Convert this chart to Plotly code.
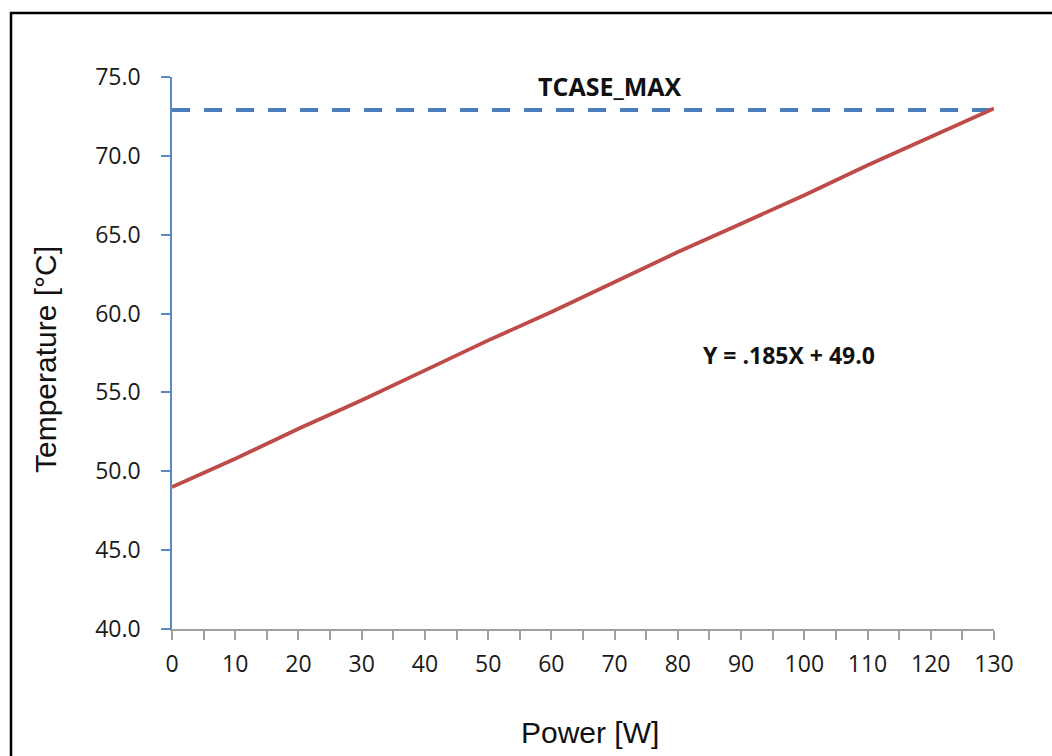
import plotly.graph_objects as go

power = [0, 10, 20, 30, 40, 50, 60, 70, 80, 90, 100, 110, 120, 130]
temperature = [49.0, 50.8, 52.7, 54.5, 56.4, 58.3, 60.1, 62.0, 63.9, 65.7, 67.5, 69.4, 71.2, 73.0]
tcase_x = [0, 131]
tcase_y = [72.9, 72.9]
x_ticks = list(range(0, 131, 10))
y_ticks = [40, 45, 50, 55, 60, 65, 70, 75]
y_tick_text = ["%.1f" % v for v in y_ticks]

fig = go.Figure()
fig.add_trace(go.Scatter(x=tcase_x, y=tcase_y, mode="lines",
                         line=dict(color="#4a7ebb", width=4, dash="18px,14px"),
                         hoverinfo="skip", cliponaxis=False))
fig.add_trace(go.Scatter(x=power, y=temperature, mode="lines",
                         line=dict(color="#be4b48", width=3.8), cliponaxis=False))

fig.update_layout(
    width=1052, height=756,
    margin=dict(l=172, r=58, t=77, b=127),
    paper_bgcolor="white", plot_bgcolor="white",
    showlegend=False,
    font=dict(family="Open Sans, Liberation Sans, sans-serif", color="#1a1a1a"),
    xaxis=dict(range=[0, 130], tickvals=x_ticks, showgrid=False, zeroline=False,
               showline=True, linecolor="#a0a0a0", linewidth=2,
               ticks="outside", ticklen=9, tickwidth=2, tickcolor="#a0a0a0",
               minor=dict(dtick=5, tick0=0, ticks="outside", ticklen=9, tickwidth=2, tickcolor="#a0a0a0"),
               tickfont=dict(size=23, color="#1a1a1a"), ticklabelstandoff=4),
    yaxis=dict(range=[40, 75], tickvals=y_ticks, ticktext=y_tick_text, showgrid=False, zeroline=False,
               showline=True, linecolor="#5a8ac6", linewidth=1.5,
               ticks="outside", ticklen=9, tickwidth=1.5, tickcolor="#5a8ac6",
               tickfont=dict(size=23, color="#1a1a1a"), ticklabelstandoff=16),
)

fig.add_annotation(x=69.3, y=74.4, text="<b>TCASE_MAX</b>", showarrow=False,
                   font=dict(size=25, color="#111111"), xanchor="center", yanchor="middle")
fig.add_annotation(x=97.5, y=57.4, text="<b>Y = .185X + 49.0</b>", showarrow=False,
                   font=dict(size=23, color="#111111"), xanchor="center", yanchor="middle")
fig.add_annotation(xref="paper", yref="paper", x=(46 - 172) / 822, y=(629 - 360) / 552,
                   text="Temperature [°C]", textangle=-90, showarrow=False,
                   font=dict(size=30, family="Liberation Sans, Arial, sans-serif", color="#111111"),
                   xanchor="center", yanchor="middle")
fig.add_annotation(xref="paper", yref="paper", x=(590 - 172) / 822, y=(629 - 732) / 552,
                   text="Power [W]", showarrow=False,
                   font=dict(size=30, family="Liberation Sans, Arial, sans-serif", color="#111111"),
                   xanchor="center", yanchor="middle")

fig.add_shape(type="rect", xref="paper", yref="paper",
              x0=(11 - 172) / 822, y0=-0.4, x1=1.2, y1=(629 - 13) / 552,
              line=dict(color="black", width=2.5), fillcolor="rgba(0,0,0,0)", layer="below")

fig.write_html("out.html")
